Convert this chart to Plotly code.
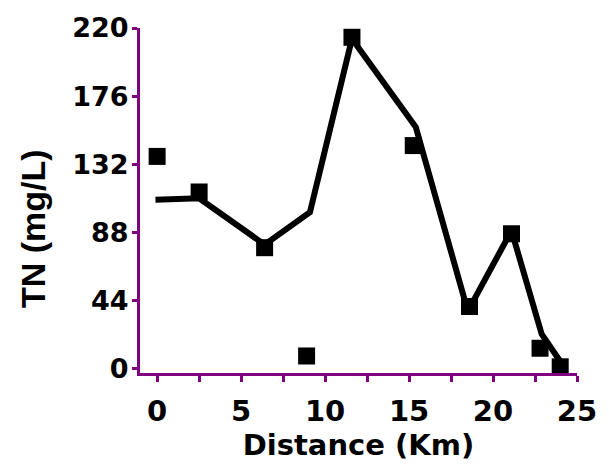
import plotly.graph_objects as go

# Measured TN concentrations along the river
distance_obs = [0, 2.5, 6.4, 8.9, 11.6, 15.25, 18.6, 21.1, 22.8, 24.0]
tn_obs = [137, 114, 78, 8, 214, 144, 40, 87, 13, 1]

# Simulated TN profile
distance_sim = [-0.1, 2.5, 6.4, 9.1, 11.6, 15.4, 18.5, 21.1, 22.9, 24.1]
tn_sim = [109, 110, 80, 101, 213, 156, 37, 89, 22, 3]

y_ticks = [0, 44, 88, 132, 176, 220]
x_ticks = [0, 5, 10, 15, 20, 25]

AXIS = "#800080"

fig = go.Figure()
fig.add_trace(go.Scatter(
    x=distance_sim, y=tn_sim, mode="lines",
    line=dict(color="black", width=6), showlegend=False,
))
fig.add_trace(go.Scatter(
    x=distance_obs, y=tn_obs, mode="markers",
    marker=dict(symbol="square", size=17, color="black"), showlegend=False,
))

fig.update_layout(
    width=609, height=466,
    margin=dict(l=140, r=27, t=21, b=88),
    plot_bgcolor="white", paper_bgcolor="white",
    xaxis=dict(
        range=[-1.02, 25], tickvals=x_ticks, ticktext=[str(v) for v in x_ticks],
        showgrid=False, zeroline=False,
        showline=True, linecolor=AXIS, linewidth=3,
        ticks="outside", ticklen=6, tickwidth=3, tickcolor=AXIS,
        minor=dict(tick0=0, dtick=2.5, ticks="outside", ticklen=6, tickwidth=3, tickcolor=AXIS),
        tickfont=dict(family="DejaVu Sans", size=29, color="black", weight="bold"),
        ticklabelstandoff=4,
        title=dict(text="Distance (Km)", standoff=6,
                   font=dict(family="DejaVu Sans", size=29, color="black", weight="bold")),
    ),
    yaxis=dict(
        range=[-3, 220], tickvals=y_ticks, ticktext=[str(v) for v in y_ticks],
        showgrid=False, zeroline=False,
        showline=True, linecolor=AXIS, linewidth=3,
        ticks="outside", ticklen=5, tickwidth=3, tickcolor=AXIS,
        tickfont=dict(family="DejaVu Sans", size=27, color="black", weight="bold"),
        ticklabelstandoff=-2,
    ),
    annotations=[dict(
        text="TN (mg/L)", textangle=-90,
        xref="paper", yref="paper", x=-0.245, y=0.42,
        xanchor="center", yanchor="middle", showarrow=False,
        font=dict(family="Liberation Sans", size=34, color="black", weight="bold"),
    )],
)

fig.write_html("out.html")
